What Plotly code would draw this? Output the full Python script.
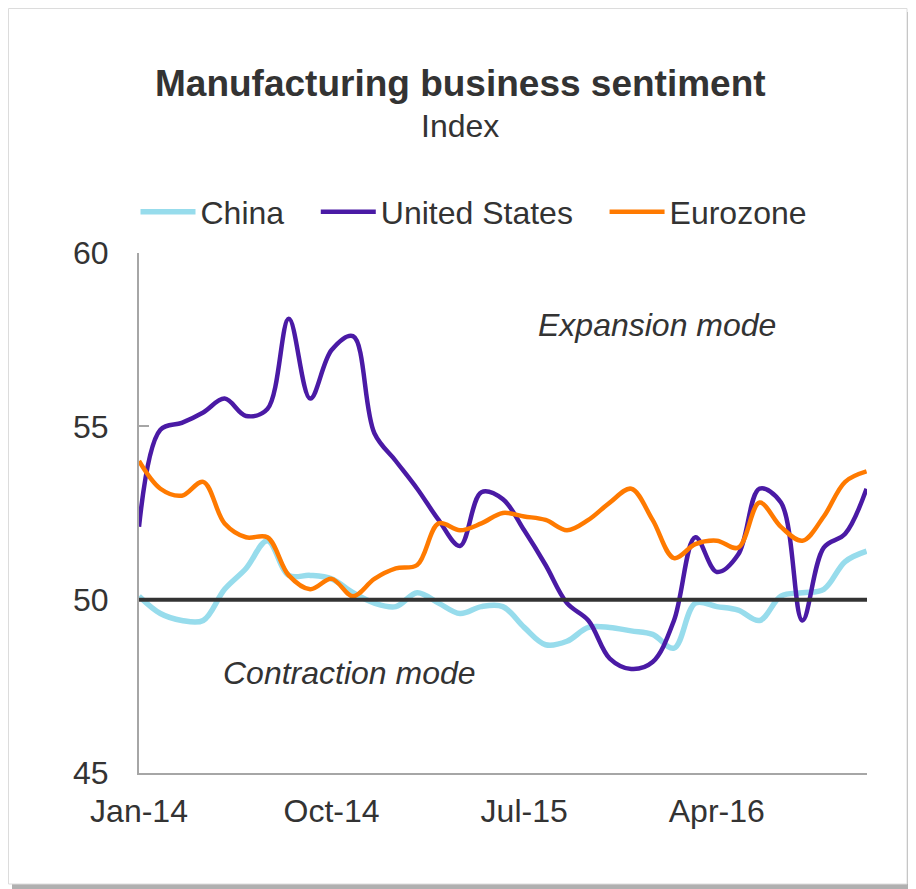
import plotly.graph_objects as go

# ---- data -------------------------------------------------------------
MONTHS = ["Jan", "Feb", "Mar", "Apr", "May", "Jun", "Jul", "Aug", "Sep", "Oct", "Nov", "Dec"]
categories = [f"{m}-{y}" for y in ("14", "15", "16") for m in MONTHS][:35]   # Jan-14 .. Nov-16
tick_labels = ["Jan-14", "Oct-14", "Jul-15", "Apr-16"]

china = [50.1, 49.6, 49.4, 49.4, 50.3, 50.9, 51.7, 50.7, 50.7, 50.6, 50.2, 49.9,
         49.8, 50.2, 49.9, 49.6, 49.8, 49.8, 49.2, 48.7, 48.8, 49.2, 49.2, 49.1,
         49.0, 48.6, 49.9, 49.8, 49.7, 49.4, 50.1, 50.2, 50.3, 51.1, 51.4]
united_states = [52.1, 54.9, 55.1, 55.4, 55.8, 55.3, 55.5, 58.1, 55.8, 57.2, 57.6, 54.8,
                 54.0, 53.2, 52.3, 51.55, 53.1, 52.9, 52.0, 51.0, 49.9, 49.4, 48.3, 48.0,
                 48.2, 49.4, 51.8, 50.8, 51.3, 53.2, 52.8, 49.4, 51.5, 51.9, 53.2]
eurozone = [54.0, 53.2, 53.0, 53.4, 52.2, 51.8, 51.8, 50.7, 50.3, 50.6, 50.1, 50.6,
            50.9, 51.0, 52.2, 52.0, 52.2, 52.5, 52.4, 52.3, 52.0, 52.3, 52.8, 53.2,
            52.3, 51.2, 51.6, 51.7, 51.5, 52.8, 52.1, 51.7, 52.4, 53.4, 53.7]
threshold = 50

series = [("China", china, "#97DCEC", 5.5),
          ("United States", united_states, "#4A1AA5", 4.5),
          ("Eurozone", eurozone, "#FF7A00", 4.5)]

FONT = "Liberation Sans, Arial, sans-serif"
TXT = "#333333"
GAP = "&nbsp;" * 3

fig = go.Figure()
for i, (name, vals, col, w) in enumerate(series):
    label = name + (GAP if i < len(series) - 1 else "")
    fig.add_trace(go.Scatter(x=categories, y=vals, name=label, mode="lines",
                             line=dict(color=col, width=w, shape="spline", smoothing=1)))

# page body has an 8px margin: work in reference pixels and shift by OFF
OFF = 8
W, H = 916 - OFF, 889 - OFF
L, T = 139 - OFF, 253 - OFF
R = W - (867 - OFF)
B = H - (773 - OFF)
pw, ph = W - L - R, H - T - B

def px(x):  # reference pixel x -> paper
    return (x - OFF - L) / pw

def py(y):  # reference pixel y -> paper
    return (H - B - (y - OFF)) / ph

shapes = [
    # card shadow and card
    dict(type="rect", xref="paper", yref="paper", x0=px(12), x1=px(916), y0=py(889), y1=py(12),
         fillcolor="#b0b0b0", line=dict(width=0), layer="below"),
    dict(type="rect", xref="paper", yref="paper", x0=px(8.5), x1=px(907), y0=py(884), y1=py(8.5),
         fillcolor="white", line=dict(color="#dcdcdc", width=1), layer="below"),
    # 50 threshold line
    dict(type="line", xref="paper", yref="y", x0=0, x1=1, y0=threshold, y1=threshold,
         line=dict(color="#333333", width=4), layer="above"),
]

annotations = [
    dict(text="<b>Manufacturing business sentiment</b>", x=px(460), y=py(83), xref="paper", yref="paper",
         showarrow=False, xanchor="center", yanchor="middle", font=dict(size=37, color=TXT, family=FONT)),
    dict(text="Index", x=px(460), y=py(126), xref="paper", yref="paper",
         showarrow=False, xanchor="center", yanchor="middle", font=dict(size=32, color=TXT, family=FONT)),
    dict(text="<i>Expansion mode</i>", x=px(657), y=py(325), xref="paper", yref="paper",
         showarrow=False, xanchor="center", yanchor="middle", font=dict(size=32, color=TXT, family=FONT)),
    dict(text="<i>Contraction mode</i>", x=px(349), y=py(673), xref="paper", yref="paper",
         showarrow=False, xanchor="center", yanchor="middle", font=dict(size=32, color=TXT, family=FONT)),
]

fig.update_layout(
    width=W, height=H,
    margin=dict(l=L, r=R, t=T, b=B, pad=0),
    paper_bgcolor="white",
    plot_bgcolor="rgba(0,0,0,0)",
    font=dict(family=FONT, size=32, color=TXT),
    shapes=shapes,
    annotations=annotations,
    showlegend=True,
    legend=dict(orientation="h", x=px(474), xanchor="center", y=py(212), yanchor="middle",
                font=dict(size=32, color=TXT, family=FONT), itemwidth=55,
                bgcolor="rgba(0,0,0,0)", traceorder="normal", itemclick=False),
    xaxis=dict(type="category", range=[0, 34.02], tickmode="array", tickvals=tick_labels,
               ticktext=tick_labels, showgrid=False, zeroline=False, showline=True,
               linecolor="#a6a6a6", linewidth=2, ticks="", ticklabelstandoff=9,
               tickfont=dict(size=32, color=TXT, family=FONT)),
    yaxis=dict(range=[45, 60], tickvals=[45, 50, 55, 60], showgrid=False, zeroline=False,
               showline=True, linecolor="#a6a6a6", linewidth=2, ticks="inside", ticklen=10,
               tickcolor="#a6a6a6", tickwidth=2, ticklabelstandoff=22,
               tickfont=dict(size=32, color=TXT, family=FONT)),
)

fig.write_html("out.html")
